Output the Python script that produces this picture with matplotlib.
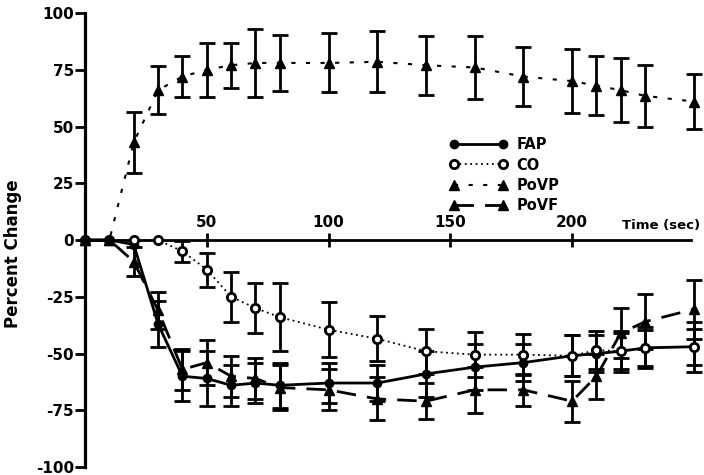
import numpy as np
import matplotlib
matplotlib.use("Agg")
from matplotlib import pyplot as plt

# time points (sec)
time = [0, 10, 20, 30, 40, 50, 60, 70, 80, 100, 120, 140, 160, 180, 200, 210, 220, 230, 250]

# percent change values
fap = [0, 0, -2, -37, -60, -61, -64, -63, -64, -63, -63, -59, -56, -54, -51, -50, -49, -47.5, -47]
fap_err = [0, 0, 0, 10, 11, 12, 9, 9, 10, 9, 8, 10, 10, 8, 9, 8, 9, 9, 11]

co = [0, 0, 0, 0, -5, -13, -25, -30, -34, -39.5, -43.5, -49, -50.5, -50.5, -51, -48.5, -49, -47.5, -47]
co_err = [0, 0, 0, 0, 4.5, 7.5, 11, 11, 15, 12, 10, 10, 10, 9, 9, 8.5, 8, 8, 8]

povp = [0, 0, 43, 66, 72, 75, 77, 78, 78, 78, 78.5, 77, 76, 72, 70, 68, 66, 63.5, 61]
povp_err = [0, 0, 13.5, 10.5, 9, 12, 10, 15, 12.5, 13, 13.5, 13, 14, 13, 14, 13, 14, 13.5, 12]

povf = [0, 0, -9.5, -31, -57, -54, -60, -61, -65, -66, -70, -71, -66, -66, -71, -60, -41, -36, -30.5]
povf_err = [0, 0, 6.5, 8, 9, 10, 9, 9, 10, 9, 9.5, 8, 10, 7, 9, 10, 11, 12, 13]

yticks = [100, 75, 50, 25, 0, -25, -50, -75, -100]
xticks = [50, 100, 150, 200]

fig = plt.figure(figsize=(7.04, 4.75), dpi=100)
ax = fig.add_axes([0.1104, 0.0168, 0.889, 0.9558])
ax.set_xlim(-3, 254)
ax.set_ylim(-100, 100)

series = [
    (fap, fap_err, 'FAP', dict(marker='o', ms=6, ls='-', lw=2, mfc='black')),
    (co, co_err, 'CO', dict(marker='o', ms=6, ls=(0, (1, 2)), lw=1.3, mfc='white', mew=2)),
    (povp, povp_err, 'PoVP', dict(marker='^', ms=7.5, ls=(0, (2, 5)), lw=1.5, mfc='black')),
    (povf, povf_err, 'PoVF', dict(marker='^', ms=7.5, ls=(0, (7, 4)), lw=2, mfc='black')),
]

handles = []
for vals, err, name, style in series:
    t = np.array(time)
    v = np.array(vals)
    e = np.array(err)
    m = e > 0
    ax.errorbar(t[m], v[m], yerr=e[m], fmt='none', ecolor='black',
                elinewidth=2, capsize=6, capthick=2, clip_on=False, zorder=2)
    h, = ax.plot(time, vals, color='black', mec='black', label=name,
                 clip_on=False, zorder=3, **style)
    handles.append(h)

# axes styling
for s in ['right', 'bottom']:
    ax.spines[s].set_visible(False)
ax.spines['left'].set_position(('data', 0))
ax.spines['left'].set_linewidth(2.3)
ax.spines['left'].set_bounds(-100, 100)
ax.spines['top'].set_position(('data', 0))
ax.spines['top'].set_linewidth(2)
ax.spines['top'].set_bounds(0, 249)

ax.xaxis.set_ticks_position('top')
ax.set_xticks(xticks)
ax.set_xticklabels([str(x) for x in xticks], fontweight='bold', fontsize=11)
ax.tick_params(axis='x', direction='inout', length=10, width=2, pad=2)

ax.set_yticks(yticks)
ax.set_yticklabels([str(y) for y in yticks], fontweight='bold', fontsize=11)
ax.tick_params(axis='y', direction='out', length=7, width=2, pad=1)

ax.text(220.5, 6.5, 'Time (sec)', ha='left', va='center', fontweight='bold', fontsize=9.5)
fig.text(13 / 704, 0.465, 'Percent Change', rotation=90, ha='center', va='center',
         fontweight='bold', fontsize=12)

ax.legend(handles=handles, loc='upper left', bbox_to_anchor=(0.628, 0.726),
          bbox_transform=fig.transFigure, frameon=False, numpoints=2,
          handlelength=4, handletextpad=0.6, labelspacing=0.35, borderpad=0,
          prop={'weight': 'bold', 'size': 10.5})

plt.savefig("out.png", dpi=100)
